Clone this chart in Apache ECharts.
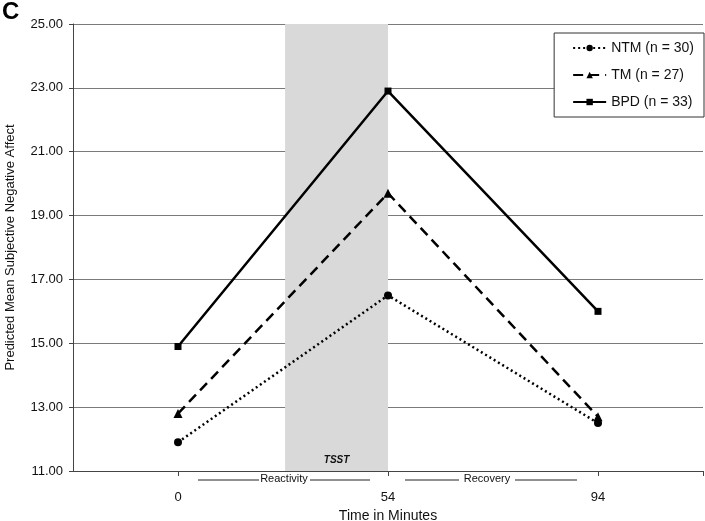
<!DOCTYPE html>
<html>
<head>
<meta charset="utf-8">
<script src="https://cdn.jsdelivr.net/npm/echarts@6/dist/echarts.min.js"></script>
<style>
html, body { margin: 0; padding: 0; background: #fff; }
#main { width: 705px; height: 521px; }
</style>
</head>
<body>
<div id="main"></div>
<script>
// time points (minutes)
var timeLabels = ['0', '54', '94'];
var timeIndex = [0, 1, 2];
// series
var seriesNames = ['NTM (n = 30)', 'TM (n = 27)', 'BPD (n = 33)'];
var ntmValues = [11.9, 16.5, 12.5];
var tmValues = [12.8, 19.7, 12.7];
var bpdValues = [14.9, 22.9, 16.0];
// TSST shaded band (in time-index units)
var tsstBand = [0.51, 1];

function pairs(vals) {
    var out = [];
    for (var i = 0; i < vals.length; i++) {
        out.push([timeIndex[i], vals[i]]);
    }
    return out;
}

var FONT = 'Liberation Sans, Arial, sans-serif';
var chart = echarts.init(document.getElementById('main'));
chart.setOption({
    animation: false,
    backgroundColor: '#fff',
    textStyle: { fontFamily: FONT },
    grid: { left: 73, right: 2, top: 24, bottom: 50, outerBoundsMode: 'none' },
    legend: {
        orient: 'vertical',
        right: 1,
        top: 33,
        width: 148,
        padding: [8, 10, 8, 18],
        itemGap: 13,
        itemWidth: 33,
        itemHeight: 8,
        borderColor: '#333',
        borderWidth: 1,
        backgroundColor: '#fff',
        textStyle: { fontSize: 14, color: '#111', fontFamily: FONT },
        data: seriesNames
    },
    xAxis: {
        type: 'value',
        min: -0.5,
        max: 2.5,
        name: 'Time in Minutes',
        nameLocation: 'middle',
        nameGap: 36,
        nameTextStyle: { fontSize: 14, color: '#111' },
        axisLine: { onZero: false, lineStyle: { color: '#444', width: 1 } },
        axisTick: { show: true, customValues: [0, 1, 2, 2.5], length: 5, lineStyle: { color: '#444' } },
        axisLabel: {
            customValues: timeIndex,
            formatter: function (v) { return timeLabels[Math.round(v)]; },
            fontSize: 13, color: '#111', margin: 20
        },
        splitLine: { show: false }
    },
    yAxis: {
        type: 'value',
        min: 11,
        max: 25,
        interval: 2,
        name: 'Predicted Mean Subjective Negative Affect',
        nameLocation: 'middle',
        nameGap: 56,
        nameTextStyle: { fontSize: 13, color: '#111' },
        axisLine: { show: true, onZero: false, lineStyle: { color: '#444', width: 1 } },
        axisTick: { show: true, length: 4, lineStyle: { color: '#444' } },
        axisLabel: {
            formatter: function (v) { return v.toFixed(2); },
            fontSize: 13, color: '#111', margin: 10
        },
        splitLine: { show: true, lineStyle: { color: '#7a7a7a', width: 1 } }
    },
    series: [
        {
            name: seriesNames[0],
            type: 'line',
            z: 3,
            data: pairs(ntmValues),
            symbol: 'circle',
            symbolSize: 8,
            color: '#000',
            lineStyle: { color: '#000', width: 2.5, type: [2, 3] },
            itemStyle: { color: '#000' },
            markArea: {
                silent: true,
                itemStyle: { color: '#d9d9d9' },
                label: {
                    show: true,
                    position: 'insideBottom',
                    distance: 6,
                    fontStyle: 'italic',
                    fontWeight: 'bold',
                    fontSize: 10,
                    color: '#111'
                },
                data: [[{ name: 'TSST', xAxis: tsstBand[0] }, { xAxis: tsstBand[1] }]]
            }
        },
        {
            name: seriesNames[1],
            type: 'line',
            z: 4,
            data: pairs(tmValues),
            symbol: 'triangle',
            symbolSize: 9,
            color: '#000',
            lineStyle: { color: '#000', width: 2.5, type: [10, 6] },
            itemStyle: { color: '#000' }
        },
        {
            name: seriesNames[2],
            type: 'line',
            z: 5,
            data: pairs(bpdValues),
            symbol: 'rect',
            symbolSize: 7,
            color: '#000',
            lineStyle: { color: '#000', width: 2.5 },
            itemStyle: { color: '#000' }
        }
    ],
    graphic: [
        {
            type: 'text', left: 2, top: 0,
            style: { text: 'C', font: 'bold 24px ' + FONT, fill: '#000' }
        },
        { type: 'line', shape: { x1: 198, y1: 480, x2: 259, y2: 480 }, style: { stroke: '#222', lineWidth: 1 } },
        {
            type: 'text', x: 284, y: 479,
            style: { text: 'Reactivity', font: '11px ' + FONT, fill: '#111', align: 'center', verticalAlign: 'middle' }
        },
        { type: 'line', shape: { x1: 310, y1: 480, x2: 370, y2: 480 }, style: { stroke: '#222', lineWidth: 1 } },
        { type: 'line', shape: { x1: 405, y1: 480, x2: 459, y2: 480 }, style: { stroke: '#222', lineWidth: 1 } },
        {
            type: 'text', x: 487, y: 479,
            style: { text: 'Recovery', font: '11px ' + FONT, fill: '#111', align: 'center', verticalAlign: 'middle' }
        },
        { type: 'line', shape: { x1: 515, y1: 480, x2: 577, y2: 480 }, style: { stroke: '#222', lineWidth: 1 } }
    ]
});
</script>
</body>
</html>
